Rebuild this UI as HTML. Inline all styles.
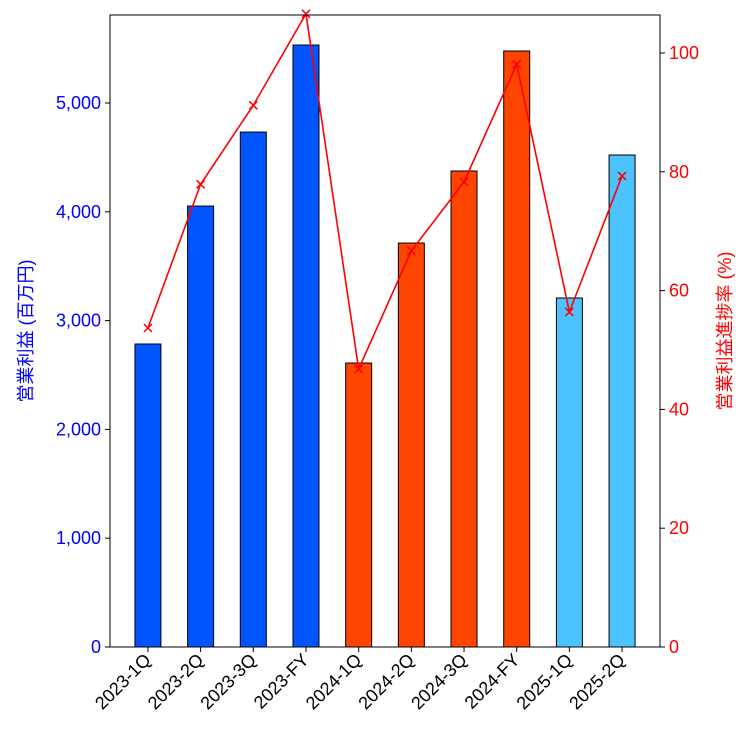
<!DOCTYPE html>
<html><head><meta charset="utf-8"><style>
body{margin:0;background:#fff;}
svg text{font-family:"Liberation Sans","Noto Sans CJK JP",sans-serif;}
</style></head><body>
<svg id="chart" width="750" height="750" xmlns="http://www.w3.org/2000/svg"></svg>
<script>
const categories=["2023-1Q","2023-2Q","2023-3Q","2023-FY","2024-1Q","2024-2Q","2024-3Q","2024-FY","2025-1Q","2025-2Q"];
const profitValues=[2785,4053,4733,5533,2610,3713,4375,5478,3208,4522];
const progressValues=[53.7,77.9,91.2,106.6,46.8,66.7,78.3,98.1,56.4,79.3];
const barColors=["#0055ff","#0055ff","#0055ff","#0055ff","#ff4500","#ff4500","#ff4500","#ff4500","#4cc2ff","#4cc2ff"];
const leftTicks=[0,1000,2000,3000,4000,5000];
const leftTickLabels=["0","1,000","2,000","3,000","4,000","5,000"];
const rightTicks=[0,20,40,60,80,100];

const NS="http://www.w3.org/2000/svg";
const svg=document.getElementById('chart');
const L=110,R=660,T=15,B=647;
const yL=v=>B-(v/5809)*(B-T);
const yR=v=>B-(v/106.4)*(B-T);
const x=i=>L+(i+0.72)*((R-L)/10.44);
function mk(tag,attrs,parent){const e=document.createElementNS(NS,tag);for(const k in attrs)e.setAttribute(k,attrs[k]);(parent||svg).appendChild(e);return e;}
const bw=26;
categories.forEach((c,i)=>{
  const r=mk('rect',{x:x(i)-bw/2,y:yL(profitValues[i]),width:bw,height:B-yL(profitValues[i]),fill:barColors[i],stroke:'#000','stroke-width':1});
  
  
  mk('line',{x1:x(i),x2:x(i),y1:B,y2:B+5,stroke:'#000'});
  const t=mk('text',{x:x(i)+4,y:B+14,'font-size':18,'text-anchor':'end',transform:`rotate(-45 ${x(i)+4} ${B+14})`});
  t.textContent=c;
  
  
});
const pts=progressValues.map((v,i)=>x(i)+','+yR(v)).join(' ');
const cp=mk('clipPath',{id:'cp'});mk('rect',{x:L,y:T,width:R-L,height:B-T},cp);
const pl=mk('polyline',{points:pts,fill:'none',stroke:'#ff0000','stroke-width':1.6,'clip-path':'url(#cp)'});


progressValues.forEach((v,i)=>{
  const g=mk('path',{d:`M${x(i)-4},${yR(v)-4}L${x(i)+4},${yR(v)+4}M${x(i)-4},${yR(v)+4}L${x(i)+4},${yR(v)-4}`,stroke:'#ff0000','stroke-width':1.5});
  
  
});
mk('rect',{x:L,y:T,width:R-L,height:B-T,fill:'none',stroke:'#000','stroke-width':1});
leftTicks.forEach((v,i)=>{
  mk('line',{x1:L-5,x2:L,y1:yL(v),y2:yL(v),stroke:'#000'});
  const t=mk('text',{x:L-9,y:yL(v)+6,'font-size':18,'text-anchor':'end',fill:'#0000ff'});
  t.textContent=leftTickLabels[i];
  
  
});
rightTicks.forEach(v=>{
  mk('line',{x1:R,x2:R+5,y1:yR(v),y2:yR(v),stroke:'#000'});
  const t=mk('text',{x:R+9,y:yR(v)+6,'font-size':18,fill:'#ff0000'});
  t.textContent=v;
  
  
});
const yl=mk('text',{x:32,y:331,'font-size':18,fill:'#0000ff','text-anchor':'middle',transform:'rotate(-90 32 331)'});
yl.textContent='営業利益 (百万円)';


const yr=mk('text',{x:731,y:331,'font-size':18,fill:'#ff0000','text-anchor':'middle',transform:'rotate(-90 731 331)'});
yr.textContent='営業利益進捗率 (%)';


</script>
</body></html>
